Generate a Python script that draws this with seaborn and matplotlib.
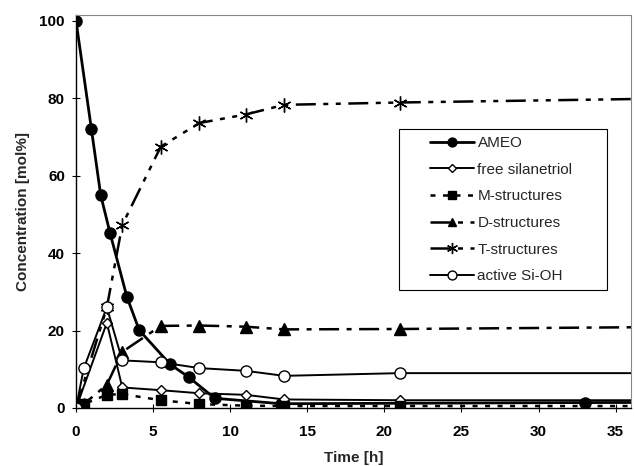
#### Import Python modules

import pandas as pd
import numpy as np
from matplotlib import pyplot as plt
from matplotlib.patches import Rectangle
import seaborn as sns

##### Data (time in h, concentration in mol%)
# the last point of each series lies past the right edge, so the lines run to the frame

ameo_t = [0, 1, 1.6, 2.2, 3.3, 4.1, 6.1, 7.3, 9, 13.3, 33, 48]
ameo = [100, 72, 55, 45.3, 28.7, 20.1, 11.3, 8, 2.5, 1.1, 1.4, 1.5]

silanetriol_t = [0, 2, 3, 5.5, 8, 11, 13.5, 21, 48]
silanetriol = [0, 22, 5.3, 4.6, 3.8, 3.4, 2.2, 2.0, 2.0]

m_t = [0, 0.5, 2, 3, 5.5, 8, 11, 13.5, 21, 48]
m_struct = [0, 1, 3.4, 3.6, 2, 1, 0.6, 0.5, 0.5, 0.5]

d_t = [0, 0.5, 2, 3, 5.5, 8, 11, 13.5, 21, 48]
d_struct = [0, 1, 6, 14.5, 21.2, 21.3, 21.0, 20.3, 20.4, 21.2]

t_t = [0, 2, 3, 5.5, 8, 11, 13.5, 21, 48]
t_struct = [0, 26, 47.3, 67.5, 73.6, 75.8, 78.3, 78.9, 80.5]

sioh_t = [0, 0.5, 2, 3, 5.5, 8, 11, 13.5, 21, 48]
sioh = [0, 10.2, 26, 12.3, 11.8, 10.3, 9.6, 8.3, 9.0, 9.0]

##### Plot

sns.set_style('ticks')
plt.rcParams['font.family'] = ['Liberation Sans', 'DejaVu Sans']

fig = plt.figure(figsize = (6.34, 4.66), dpi = 100)
ax = fig.add_axes([0.1199, 0.1245, 0.8754, 0.8433])

common = dict(ax = ax, color = 'black', errorbar = None, markeredgecolor = 'black', markeredgewidth = 1)

sns.lineplot(x = ameo_t, y = ameo, label = 'AMEO', marker = 'o', markersize = 8,
             linewidth = 2, **common)
sns.lineplot(x = silanetriol_t, y = silanetriol, label = 'free silanetriol', marker = 'D', markersize = 5,
             markerfacecolor = 'white', linewidth = 1.4, **common)
sns.lineplot(x = m_t, y = m_struct, label = 'M-structures', marker = 's', markersize = 7.5,
             linewidth = 1.8, linestyle = (0, (2, 3)), **common)
sns.lineplot(x = d_t, y = d_struct, label = 'D-structures', marker = '^', markersize = 8,
             linewidth = 1.8, linestyle = (0, (8, 3, 2, 3)), **common)
sns.lineplot(x = t_t, y = t_struct, label = 'T-structures', marker = (6, 2, 0), markersize = 10,
             linewidth = 1.8, linestyle = (0, (8, 3, 2, 3, 2, 3)), **common)
sns.lineplot(x = sioh_t, y = sioh, label = 'active Si-OH', marker = 'o', markersize = 8,
             markerfacecolor = 'white', linewidth = 1.4, **common)

ax.set_xlim(0, 36)
ax.set_ylim(0, 101.5)
ax.set_xticks(np.arange(0, 36, 5))
ax.set_yticks(np.arange(0, 101, 20))
ax.tick_params(direction = 'inout', length = 6, width = 0.8, labelsize = 11, colors = 'black')
ax.tick_params(axis = 'x', pad = 9)
ax.tick_params(axis = 'y', pad = 5)
for lab in ax.get_xticklabels() + ax.get_yticklabels():
    lab.set_fontweight('bold')

for side in ['left', 'bottom']:
    ax.spines[side].set_color('black')
    ax.spines[side].set_linewidth(1)
for side in ['top', 'right']:
    ax.spines[side].set_visible(True)
    ax.spines[side].set_color('#888888')
    ax.spines[side].set_linewidth(0.8)
    ax.spines[side].set_linestyle((0, (3, 1)))

ax.set_xlabel('Time [h]', fontsize = 11, fontweight = 'bold', labelpad = 9)
ax.set_ylabel('Concentration [mol%]', fontsize = 11, fontweight = 'bold', labelpad = 7)

# legend box is drawn by hand, it has wide side margins
leg = ax.legend(loc = 'upper left', bbox_to_anchor = (0.638, 0.692), borderaxespad = 0, borderpad = 0,
                fontsize = 11, handlelength = 2.9, handletextpad = 0.2, labelspacing = 0.83,
                frameon = False, markerscale = 0.8)
ax.add_patch(Rectangle((0.582, 0.300), 0.375, 0.410, transform = ax.transAxes, fill = False,
                       edgecolor = 'black', linewidth = 0.8, zorder = 5))

plt.savefig('out.png', dpi = 100)
